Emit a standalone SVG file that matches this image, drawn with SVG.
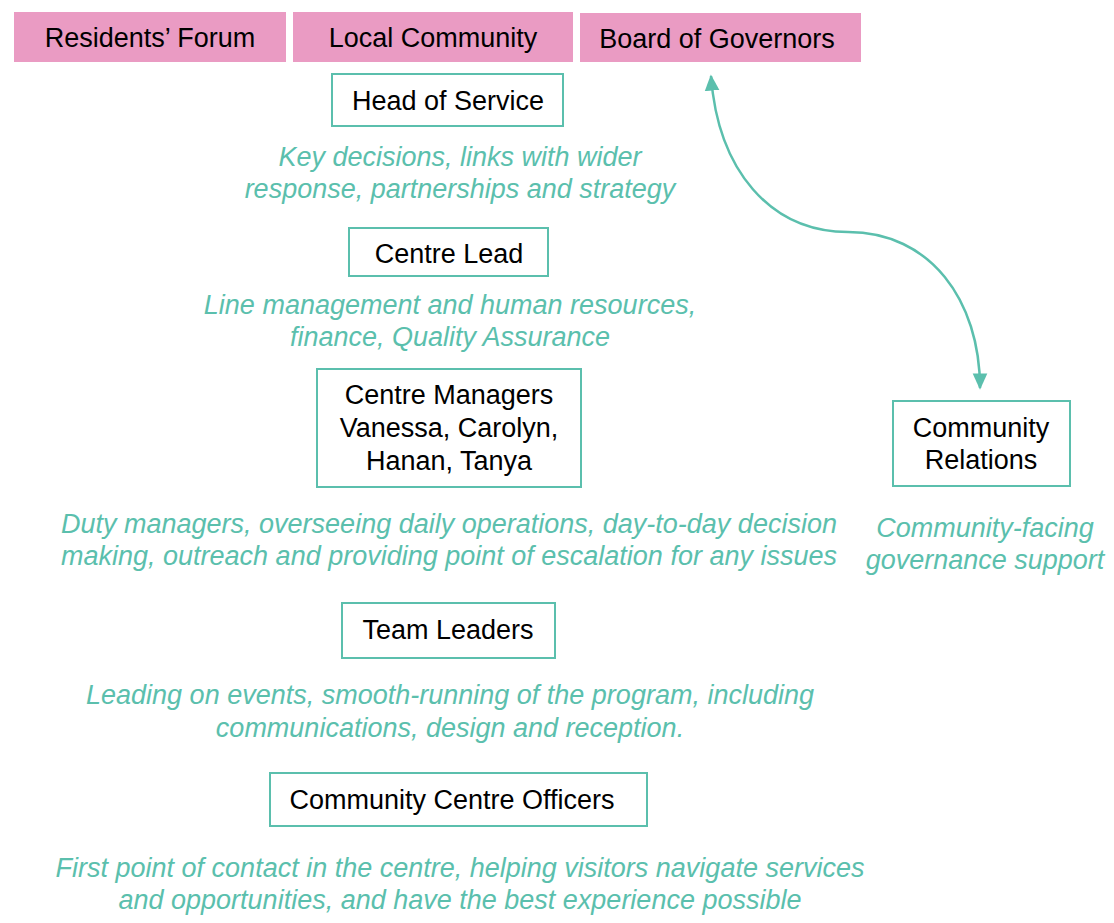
<svg xmlns="http://www.w3.org/2000/svg" width="1114" height="923" viewBox="0 0 1114 923">
<style>
.pink{fill:#EA9BC3;}
.box{fill:#fff;stroke:#5BBFAD;stroke-width:2;}
.t{font-family:"Liberation Sans",Arial,sans-serif;font-size:27px;fill:#000;text-anchor:middle;}
.d{font-family:"Liberation Sans",Arial,sans-serif;font-size:27px;font-style:italic;fill:#5BBFAD;text-anchor:middle;}
.conn{fill:none;stroke:#5BBFAD;stroke-width:2.5;}
</style>
<defs>
<marker id="ah" viewBox="0 0 10 10" refX="9" refY="5" markerWidth="6.5" markerHeight="6.5" orient="auto-start-reverse" markerUnits="strokeWidth">
<path d="M0,0.5 L10,5 L0,9.5 z" fill="#5BBFAD"/>
</marker>
<clipPath id="clipDuty"><rect x="0" y="490" width="839" height="100"/></clipPath>
</defs>
<g id="residents-forum"><rect class="pink" x="14" y="12" width="272" height="50"/><text class="t" x="150" y="47">Residents’ Forum</text></g>
<g id="local-community"><rect class="pink" x="293" y="12" width="280" height="50"/><text class="t" x="433" y="47">Local Community</text></g>
<g id="board-of-governors"><rect class="pink" x="580" y="13" width="281" height="49"/><text class="t" x="717" y="48">Board of Governors</text></g>
<g id="head-of-service"><rect class="box" x="332" y="74" width="231" height="52"/><text class="t" x="448" y="110">Head of Service</text>
<text class="d" x="460" y="166">Key decisions, links with wider</text><text class="d" x="460" y="198">response, partnerships and strategy</text></g>
<g id="centre-lead"><rect class="box" x="349" y="228" width="199" height="48"/><text class="t" x="449" y="263">Centre Lead</text>
<text class="d" x="450" y="314">Line management and human resources,</text><text class="d" x="450" y="346">finance, Quality Assurance</text></g>
<g id="centre-managers"><rect class="box" x="317" y="369" width="264" height="118"/><text class="t" x="449" y="404">Centre Managers</text><text class="t" x="449" y="437">Vanessa, Carolyn,</text><text class="t" x="449" y="470">Hanan, Tanya</text>
<g clip-path="url(#clipDuty)"><text class="d" x="61" y="533" style="text-anchor:start">Duty managers, overseeing daily operations, day-to-day decision</text><text class="d" x="61" y="565" style="text-anchor:start">making, outreach and providing point of escalation for any issues</text></g></g>
<g id="community-relations"><rect class="box" x="893" y="401" width="177" height="85"/><text class="t" x="981" y="437">Community</text><text class="t" x="981" y="469">Relations</text>
<text class="d" x="985" y="537">Community-facing</text><text class="d" x="985" y="569">governance support</text></g>
<g id="team-leaders"><rect class="box" x="342" y="603" width="213" height="55"/><text class="t" x="448" y="639">Team Leaders</text>
<text class="d" x="450" y="704">Leading on events, smooth-running of the program, including</text><text class="d" x="450" y="737">communications, design and reception.</text></g>
<g id="community-centre-officers"><rect class="box" x="270" y="773" width="377" height="53"/><text class="t" x="452" y="809">Community Centre Officers</text>
<text class="d" x="460" y="877">First point of contact in the centre, helping visitors navigate services</text><text class="d" x="460" y="909">and opportunities, and have the best experience possible</text></g>
<g id="connectors"><path class="conn" d="M711,76 C718,170 770,232 848,232 C930,232 980,300 980,388" marker-start="url(#ah)" marker-end="url(#ah)"/></g>
</svg>
